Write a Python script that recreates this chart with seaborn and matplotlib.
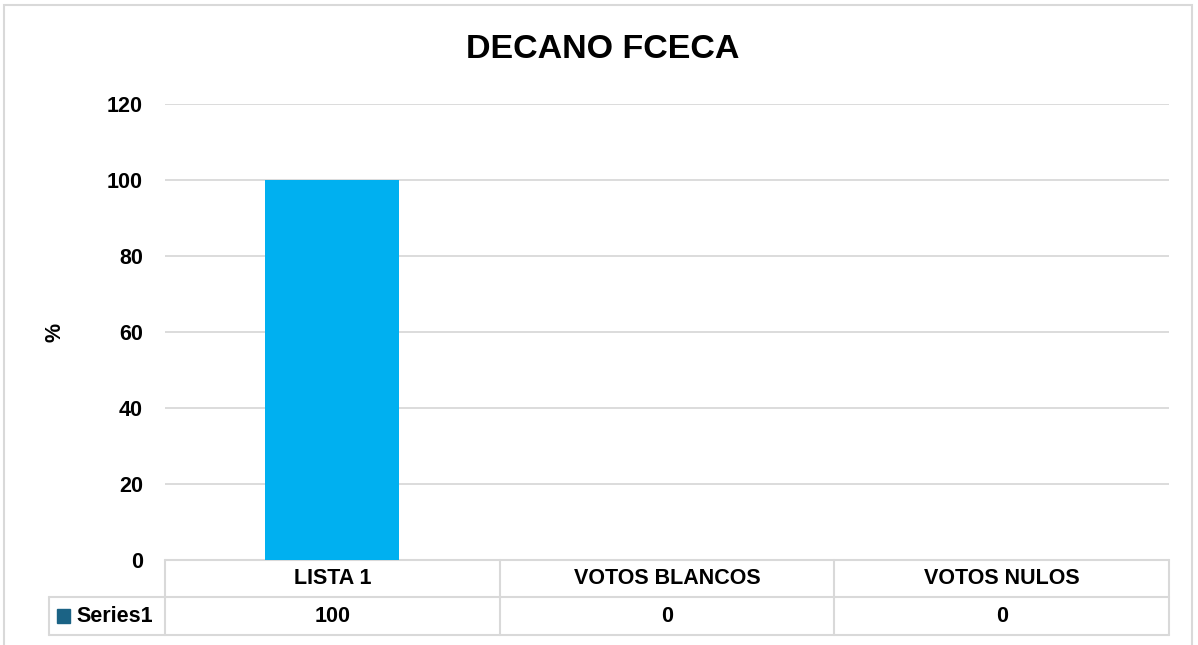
import matplotlib
matplotlib.use('Agg')
import matplotlib.pyplot as plt
import matplotlib.transforms as mtransforms
from matplotlib.patches import Rectangle
import seaborn as sns
import pandas as pd

# data
categories = ['LISTA 1', 'VOTOS BLANCOS', 'VOTOS NULOS']
values = [100, 0, 0]
series_name = 'Series1'
title = 'DECANO FCECA'
y_label = '%'
y_ticks = [0, 20, 40, 60, 80, 100, 120]

df = pd.DataFrame({'cat': categories, 'val': values})

sns.set_style('white')
plt.rcParams['font.family'] = ['Liberation Sans', 'DejaVu Sans']
plt.rcParams['text.color'] = 'black'
plt.rcParams['ytick.color'] = 'black'

W, H = 1198, 645
fig = plt.figure(figsize=(W / 100, H / 100), dpi=100)
L, R, T, B = 165, 1169, 104, 560
ax = fig.add_axes([L / W, (H - B) / H, (R - L) / W, (B - T) / H])

grid_c = '#D9D9D9'
fs = 15.5
sns.barplot(data=df, x='cat', y='val', color='#00B0F0', width=0.4, ax=ax,
            saturation=1, zorder=3, linewidth=0)
ax.set_ylim(0, 120)
ax.set_xlim(-0.5, len(categories) - 0.5)
ax.set_yticks(y_ticks)
ax.set_yticklabels([str(t) for t in y_ticks], fontsize=fs, fontweight='bold')
ax.set_xticks([])
ax.set_xlabel('')
ax.set_ylabel('')
ax.tick_params(axis='y', length=0, pad=16)
for t in y_ticks[1:]:
    ax.axhline(t, color=grid_c, lw=1.3, zorder=0)
for s in ax.spines.values():
    s.set_visible(False)

fig.text(0.503, 1 - 49 / H, title, ha='center', va='center', fontsize=24.5,
         fontweight='bold')
fig.text(55 / W, 1 - 332 / H, y_label, ha='center', va='center', rotation=90,
         fontsize=fs, fontweight='bold')

# data table below the axis
ph = B - T
row1 = -(597 - B) / ph
row2 = -(635 - B) / ph
left_cell = (49 - L) / (R - L)
tr = mtransforms.blended_transform_factory(ax.transData, ax.transAxes)
kw = dict(color=grid_c, lw=1.5, clip_on=False, zorder=1)
ax.plot([0, 1], [0, 0], transform=ax.transAxes, **kw)
ax.plot([left_cell, 1], [row1, row1], transform=ax.transAxes, **kw)
ax.plot([left_cell, 1], [row2, row2], transform=ax.transAxes, **kw)
ax.plot([left_cell, left_cell], [row1, row2], transform=ax.transAxes, **kw)
for i in range(len(categories) + 1):
    ax.plot([i - 0.5, i - 0.5], [0, row2], transform=tr, **kw)
for i, (c, v) in enumerate(zip(categories, values)):
    ax.text(i, row1 / 2, c, transform=tr, ha='center', va='center',
            fontsize=fs, fontweight='bold')
    ax.text(i, (row1 + row2) / 2, str(v), transform=tr, ha='center',
            va='center', fontsize=fs, fontweight='bold')
ax.text((76 - L) / (R - L), (row1 + row2) / 2, series_name, transform=ax.transAxes,
        ha='left', va='center', fontsize=fs, fontweight='bold')
ax.add_patch(Rectangle(((57 - L) / (R - L), (row1 + row2) / 2 - 7 / ph),
                       13 / (R - L), 14 / ph,
                       transform=ax.transAxes, color='#1B6385', clip_on=False))

# chart border
fig.add_artist(Rectangle((4 / W, -0.01), (1192 - 4) / W, 1 - 5 / H + 0.01,
                         transform=fig.transFigure, fill=False,
                         edgecolor=grid_c, lw=1.5))

fig.savefig('out.png', dpi=100)
